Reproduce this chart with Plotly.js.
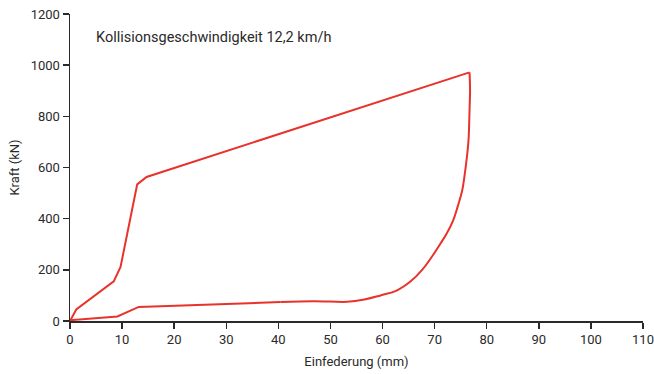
<!DOCTYPE html>
<html>
<head>
<meta charset="utf-8">
<script src="https://cdn.plot.ly/plotly-3.0.1.min.js"></script>
<style>html,body{margin:0;padding:0;background:#fff;}#chart{width:654px;height:374px;}</style>
</head>
<body>
<div id="chart"></div>
<script>
// Einfederung (mm) – loading then unloading path
const einfederung = [0, 1.2, 8.4, 9.7, 12.9, 14.7, 76.7,
  76.8, 76.7, 76.5, 76.2, 75.8, 75.3, 74.4, 73.5, 72.4, 71.1, 69.5, 67.6, 65.4, 62.8, 59.6,
  56.5, 53.2, 50.0, 46.7, 40.4, 13.2, 9.1, 0];
// Kraft (kN)
const kraft = [0, 45, 155, 211, 534, 563, 972,
  900, 824, 707, 642, 577, 511, 446, 390, 345, 302, 252, 200, 155, 120, 100,
  84, 75, 76, 77, 74, 55, 18, 3];
const xTicks = [0,10,20,30,40,50,60,70,80,90,100,110];
const yTicks = [0,200,400,600,800,1000,1200];
const titleText = 'Kollisionsgeschwindigkeit 12,2 km/h';

const font = {family: 'Roboto, "DejaVu Sans", sans-serif', size: 13, color: '#2a2a2a'};
const red = '#e8322b';

// split: straight loading path, smooth unloading curve, straight bottom return
const peak = 6, curveEnd = 26;
const traces = [
  {x: einfederung.slice(0, peak + 1), y: kraft.slice(0, peak + 1), shape: 'linear'},
  {x: einfederung.slice(peak, curveEnd + 1), y: kraft.slice(peak, curveEnd + 1), shape: 'spline'},
  {x: einfederung.slice(curveEnd), y: kraft.slice(curveEnd), shape: 'linear'}
].map(t => ({x: t.x, y: t.y, type: 'scatter', mode: 'lines',
  line: {color: red, width: 2, shape: t.shape, smoothing: 1.2}, hoverinfo: 'skip'}));

Plotly.newPlot('chart', traces, {
  width: 654, height: 374,
  margin: {l: 69.5, r: 11, t: 14, b: 53.3},
  paper_bgcolor: '#fff', plot_bgcolor: '#fff',
  showlegend: false,
  font: font,
  xaxis: {
    range: [0, 110], tickvals: xTicks, ticktext: xTicks.map(String),
    showgrid: false, zeroline: false, showline: true, linecolor: '#2a2a2a', linewidth: 1.5,
    ticks: 'outside', ticklen: 6, tickwidth: 1.5, tickcolor: '#2a2a2a',
    tickfont: font,
    title: {text: 'Einfederung (mm)', font: font, standoff: 11}
  },
  yaxis: {
    range: [0, 1200], tickvals: yTicks, ticktext: yTicks.map(String),
    showgrid: false, zeroline: false, showline: true, linecolor: '#2a2a2a', linewidth: 1.5,
    ticks: 'outside', ticklen: 6, tickwidth: 1.5, tickcolor: '#2a2a2a',
    tickfont: font,
    title: {text: 'Kraft (kN)', font: font, standoff: 8}
  },
  annotations: [{
    text: titleText, xref: 'paper', yref: 'paper',
    x: 24 / 573.5, y: (320.7 - 37) / 306.7, xanchor: 'left', yanchor: 'middle',
    showarrow: false, font: Object.assign({}, font, {size: 14.5})
  }]
}, {displayModeBar: false, staticPlot: true});
</script>
</body>
</html>
